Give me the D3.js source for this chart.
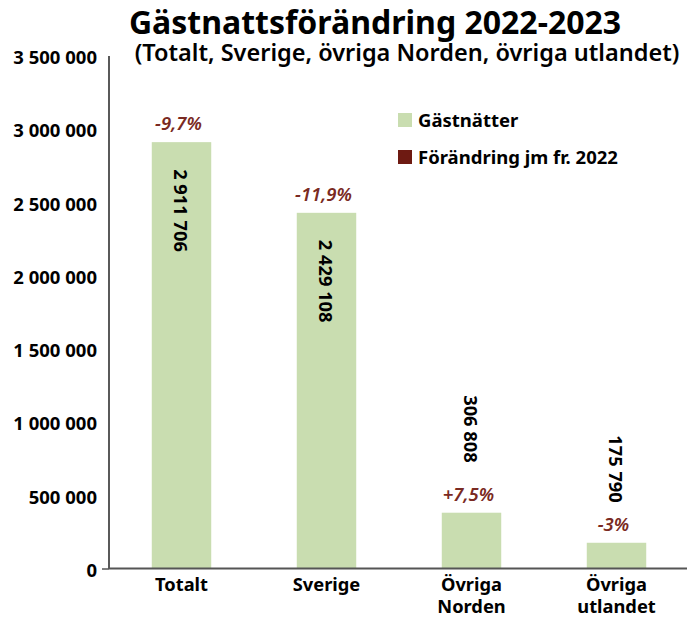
<!DOCTYPE html>
<html>
<head>
<meta charset="utf-8">
<script src="https://cdn.jsdelivr.net/npm/d3@7"></script>
<style>
  html, body { margin: 0; padding: 0; background: #fff; }
  svg { display: block; font-family: "Noto Sans", "Open Sans", sans-serif; }
</style>
</head>
<body>
<svg id="chart" width="694" height="617"></svg>
<script>
const title = "Gästnattsförändring 2022-2023";
const subtitle = "(Totalt, Sverige, övriga Norden, övriga utlandet)";
const categories = [["Totalt"], ["Sverige"], ["Övriga", "Norden"], ["Övriga", "utlandet"]];
const barValues = [2911706, 2429108, 381000, 175790];
const valueLabels = ["2 911 706", "2 429 108", "306 808", "175 790"];
const changeLabels = ["-9,7%", "-11,9%", "+7,5%", "-3%"];
const yTicks = [0, 500000, 1000000, 1500000, 2000000, 2500000, 3000000, 3500000];
const legendItems = ["Gästnätter", "Förändring jm fr. 2022"];

const barColor = "#c9ddb0";
const changeColor = "#6e1a12";
const textColor = "#7a2a22";

const svg = d3.select("#chart");
const mLeft = 109, mRight = 689, mTop = 56, mBottom = 568.5;

const x = d3.scaleBand().domain(d3.range(categories.length)).range([mLeft, mRight]).paddingInner(0.59).paddingOuter(0.295);
const y = d3.scaleLinear().domain([0, 3500000]).range([mBottom, mTop]);

// Title
svg.append("text").attr("x", 375).attr("y", 34).attr("text-anchor", "middle")
  .attr("font-size", 32).attr("font-weight", 700).attr("fill", "#000").text(title);
svg.append("text").attr("x", 407).attr("y", 61).attr("text-anchor", "middle")
  .attr("font-size", 23.5).attr("font-weight", 600).attr("fill", "#000").text(subtitle);

// Bars
svg.selectAll("rect.bar").data(barValues).join("rect")
  .attr("class", "bar")
  .attr("x", (d, i) => x(i)).attr("width", x.bandwidth())
  .attr("y", d => y(d)).attr("height", d => y(0) - y(d))
  .attr("fill", barColor);

// Y axis
const yAxis = d3.axisLeft(y).tickValues(yTicks).tickSize(7)
  .tickFormat(d => d3.format(",")(d).replace(/,/g, " "));
const gy = svg.append("g").attr("transform", `translate(${mLeft},0)`).call(yAxis);
gy.select(".domain").attr("stroke", "#000").attr("stroke-width", 1.3).attr("d", `M0,${mTop}V${mBottom}`);
gy.selectAll(".tick line").attr("stroke", (d) => d === 0 ? "#000" : "none");
gy.selectAll(".tick text").attr("x", -12).attr("dy", "0.42em")
  .attr("font-size", 18.5).attr("font-weight", 700).attr("fill", "#000")
  .attr("font-family", "Noto Sans, Open Sans, sans-serif");

// X baseline
svg.append("line").attr("x1", mLeft).attr("x2", 687).attr("y1", y(0)).attr("y2", y(0))
  .attr("stroke", "#555").attr("stroke-width", 2);

// X labels
const xl = svg.selectAll("text.xlab").data(categories).join("text")
  .attr("class", "xlab")
  .attr("x", (d, i) => x(i) + x.bandwidth() / 2)
  .attr("y", 591).attr("text-anchor", "middle")
  .attr("font-size", 18.3).attr("font-weight", 700).attr("fill", "#000");
xl.selectAll("tspan").data(d => d).join("tspan")
  .attr("x", function() { return this.parentNode.getAttribute("x"); })
  .attr("dy", (d, j) => j === 0 ? 0 : 21.5)
  .text(d => d);

// Change labels
svg.selectAll("text.chg").data(changeLabels).join("text")
  .attr("class", "chg")
  .attr("x", (d, i) => x(i) + x.bandwidth() / 2 - 3)
  .attr("y", (d, i) => y(barValues[i]) - 12)
  .attr("text-anchor", "middle")
  .attr("font-size", 18.5).attr("font-style", "italic").attr("font-weight", 600)
  .attr("fill", textColor).text(d => d);

// Value labels (rotated)
const outsideGap = [0, 0, 50, 40];
svg.selectAll("text.val").data(valueLabels).join("text")
  .attr("class", "val")
  .attr("transform", (d, i) => {
    const cx = x(i) + x.bandwidth() / 2;
    const inside = (y(0) - y(barValues[i])) > 100;
    const yy = inside ? y(barValues[i]) + 27 : y(barValues[i]) - outsideGap[i];
    return `translate(${cx},${yy}) rotate(90)`;
  })
  .attr("text-anchor", (d, i) => (y(0) - y(barValues[i])) > 100 ? "start" : "end")
  .attr("dominant-baseline", "central")
  .attr("font-size", 18.3).attr("font-weight", 700).attr("fill", "#000").text(d => d);

// Legend
const lg = svg.append("g");
const legendColors = [barColor, changeColor];
legendItems.forEach((t, i) => {
  const yy = 120 + i * 37;
  lg.append("rect").attr("x", 398).attr("y", yy - 7).attr("width", 14).attr("height", 14).attr("fill", legendColors[i]);
  lg.append("text").attr("x", 418).attr("y", yy).attr("dy", "0.36em")
    .attr("font-size", 18.5).attr("font-weight", 700).attr("fill", "#000").text(t);
});
</script>
</body>
</html>
